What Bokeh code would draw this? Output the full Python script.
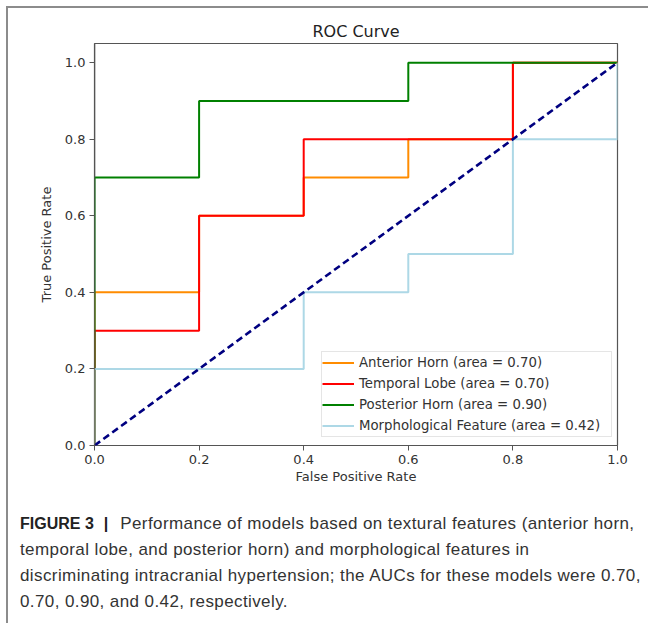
from bokeh.plotting import figure
from bokeh.layouts import column
from bokeh.models import (Range1d, FixedTicker, PrintfTickFormatter, Legend,
                          LegendItem, Span, Div)
from bokeh.embed import file_html
from bokeh.resources import INLINE

# ---- data ----
names = ["Anterior Horn", "Temporal Lobe", "Posterior Horn", "Morphological Feature"]
aucs = [0.70, 0.70, 0.90, 0.42]
colors = ["darkorange", "red", "green", "lightblue"]

fpr_anterior = [0.0, 0.0, 0.2, 0.2, 0.4, 0.4, 0.6, 0.6, 0.8, 0.8, 1.0]
tpr_anterior = [0.0, 0.4, 0.4, 0.6, 0.6, 0.7, 0.7, 0.8, 0.8, 1.0, 1.0]
fpr_temporal = [0.0, 0.0, 0.2, 0.2, 0.4, 0.4, 0.8, 0.8, 1.0]
tpr_temporal = [0.0, 0.3, 0.3, 0.6, 0.6, 0.8, 0.8, 1.0, 1.0]
fpr_posterior = [0.0, 0.0, 0.2, 0.2, 0.6, 0.6, 1.0]
tpr_posterior = [0.0, 0.7, 0.7, 0.9, 0.9, 1.0, 1.0]
fpr_morph = [0.0, 0.0, 0.4, 0.4, 0.6, 0.6, 0.8, 0.8, 1.0, 1.0]
tpr_morph = [0.0, 0.2, 0.2, 0.4, 0.4, 0.5, 0.5, 0.8, 0.8, 1.0]
chance_x = [0.0, 1.0]
chance_y = [0.0, 1.0]

tick_values = [0.0, 0.2, 0.4, 0.6, 0.8, 1.0]

title_text = "ROC Curve"
x_label = "False Positive Rate"
y_label = "True Positive Rate"
caption_bold = ["FIGURE 3", "|"]
caption_lines = [
    "Performance of models based on textural features (anterior horn,",
    "temporal lobe, and posterior horn) and morphological features in",
    "discriminating intracranial hypertension; the AUCs for these models were 0.70,",
    "0.70, 0.90, and 0.42, respectively.",
]

curves = [(fpr_anterior, tpr_anterior), (fpr_temporal, tpr_temporal),
          (fpr_posterior, tpr_posterior), (fpr_morph, tpr_morph)]

FONT = "DejaVu Sans"
TXT = "#333333"

p = figure(frame_width=523, frame_height=402,
           min_border_left=86, min_border_right=31,
           min_border_top=35, min_border_bottom=47,
           x_range=Range1d(0, 1), y_range=Range1d(0, 1.05),
           output_backend="svg", toolbar_location=None,
           title=title_text)

p.title.align = "center"
p.title.text_font = FONT
p.title.text_font_size = "16px"
p.title.text_font_style = "normal"
p.title.text_color = "#222222"
p.title.standoff = 6

p.xgrid.visible = False
p.ygrid.visible = False
p.outline_line_color = "#555555"
p.outline_line_width = 1.2
p.background_fill_color = "white"
p.border_fill_color = "white"

for ax in (p.xaxis[0], p.yaxis[0]):
    ax.ticker = FixedTicker(ticks=tick_values, minor_ticks=[])
    ax.formatter = PrintfTickFormatter(format="%.1f")
    ax.major_tick_in = 0
    ax.major_tick_out = 5
    ax.minor_tick_out = 0
    ax.axis_line_color = None
    ax.major_tick_line_color = "#555555"
    ax.major_label_text_font = FONT
    ax.major_label_text_font_size = "13px"
    ax.major_label_text_color = TXT
    ax.axis_label_text_font = FONT
    ax.axis_label_text_font_size = "13px"
    ax.axis_label_text_font_style = "normal"
    ax.axis_label_text_color = TXT
    ax.major_label_standoff = 4

p.xaxis.axis_label = x_label
p.yaxis.axis_label = y_label
p.xaxis.axis_label_standoff = 2
p.yaxis.axis_label_standoff = 8

items = []
for (xs, ys), name, auc, col in zip(curves, names, aucs, colors):
    r = p.line(xs, ys, line_color=col, line_width=2)
    items.append(LegendItem(label="%s (area = %.2f)" % (name, auc), renderers=[r]))

p.line(chance_x, chance_y, line_color="navy", line_width=2.6, line_dash="7 4")

# left spine drawn above the curves (as in the reference)
p.add_layout(Span(location=0, dimension="height", line_color="#555555", line_width=1.5))

legend = Legend(items=items, location=(227, 8))
legend.margin = 0
legend.padding = 0
legend.spacing = 0
legend.label_height = 21
legend.glyph_height = 21
legend.glyph_width = 32
legend.label_width = 252
legend.label_standoff = 5
legend.label_text_font = FONT
legend.label_text_font_size = "13.3px"
legend.label_text_color = TXT
legend.border_line_color = "#cccccc"
legend.border_line_width = 1
legend.background_fill_alpha = 0.85
p.add_layout(legend)

# ---- caption ----
bold_style = "font-weight:bold;color:#222222;font-size:16px;letter-spacing:0px;"
first = ('<span style="%s">%s</span>' % (bold_style, caption_bold[0])
         + '<span style="%smargin-left:10px;">%s</span>' % (bold_style, caption_bold[1])
         + '<span style="margin-left:12px;">%s</span>' % caption_lines[0])
body = "<br>".join([first] + caption_lines[1:])
html = ('<div style="font-family:\'Liberation Sans\',Arial,sans-serif;font-size:17px;'
        'letter-spacing:0.4px;line-height:26px;color:#333333;white-space:nowrap;'
        'padding:19px 0 0 12px;margin:0;">' + body + '</div>')
cap = Div(text=html, width=640, height=131, margin=0)

layout = column(p, cap, spacing=0,
                styles={"margin-left": "6px", "margin-top": "6px",
                        "border-left": "2px solid #8c8c8c",
                        "border-top": "2px solid #8c8c8c"})

open("out.html", "w").write(file_html(layout, INLINE))
